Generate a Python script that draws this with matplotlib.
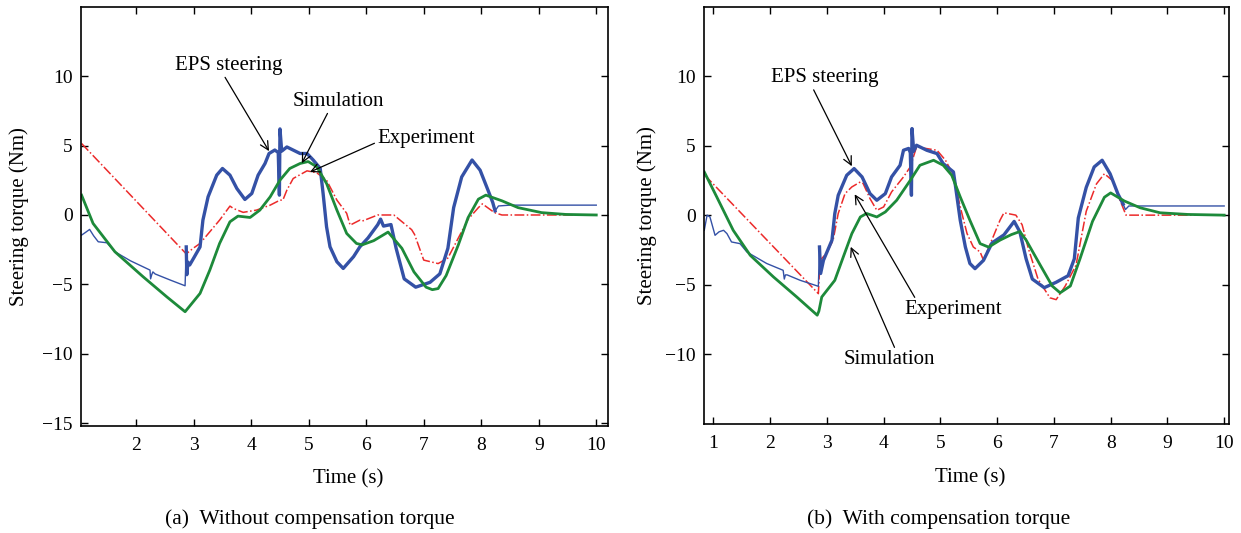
import numpy as np
import matplotlib.pyplot as plt

plt.rcParams['font.family'] = ['Liberation Serif', 'DejaVu Serif']

# ---- (a) without compensation torque ----
a_eps_t = [1.05, 1.12, 1.19, 1.26, 1.34, 1.49, 1.63, 1.9, 2.24, 2.25, 2.27, 2.29, 2.33, 2.6, 2.85,
           2.87, 2.88, 2.9, 2.93, 3.0, 3.11, 3.16, 3.25, 3.40, 3.50, 3.63, 3.75, 3.89, 4.01, 4.12,
           4.24, 4.31, 4.41, 4.47, 4.49, 4.50, 4.53, 4.62, 4.85, 4.97, 5.08, 5.20, 5.25, 5.31, 5.37,
           5.49, 5.60, 5.78, 5.89, 6.03, 6.20, 6.25, 6.30, 6.43, 6.52, 6.66, 6.86, 7.11, 7.28, 7.42,
           7.52, 7.66, 7.84, 7.98, 8.12, 8.20, 8.24, 8.30, 8.5, 10.0]
a_eps_y = [-1.45, -1.25, -1.04, -1.5, -1.93, -2.0, -2.65, -3.3, -3.97, -4.6, -4.3, -4.1, -4.25, -4.7, -5.1,
           -2.3, -4.3, -3.4, -3.6, -3.1, -2.3, -0.37, 1.31, 2.87, 3.35, 2.87, 1.91, 1.12, 1.55, 2.87,
           3.71, 4.43, 4.68, 4.5, 1.43, 6.2, 4.6, 4.9, 4.43, 4.43, 3.95, 3.35, 1.55, -0.85, -2.29,
           -3.37, -3.85, -3.0, -2.29, -1.66, -0.7, -0.3, -0.8, -0.69, -2.4, -4.6, -5.2, -4.85, -4.24, -2.4,
           0.53, 2.74, 3.96, 3.23, 1.76, 0.9, 0.3, 0.65, 0.71, 0.71]

a_sim_t = [1.05, 1.25, 1.63, 2.12, 2.53, 2.85, 3.11, 3.28, 3.45, 3.63, 3.77, 3.98, 4.15, 4.33, 4.50,
           4.67, 4.85, 4.99, 5.14, 5.31, 5.49, 5.66, 5.83, 5.93, 6.13, 6.38, 6.62, 6.83, 7.04, 7.15,
           7.25, 7.39, 7.60, 7.77, 7.95, 8.08, 8.36, 8.64, 9.05, 9.47, 10.0]
a_sim_y = [1.43, -0.61, -2.65, -4.45, -5.89, -6.97, -5.65, -3.97, -2.05, -0.49, -0.08, -0.18, 0.35, 1.31, 2.51,
           3.35, 3.71, 3.85, 3.47, 2.27, 0.35, -1.33, -2.05, -2.15, -1.85, -1.23, -2.4, -4.1, -5.2, -5.38,
           -5.3, -4.36, -2.17, -0.2, 1.14, 1.43, 1.02, 0.53, 0.17, 0.04, 0.0]

a_exp_t = [1.05, 2.87, 2.99, 3.11, 3.28, 3.45, 3.63, 3.69, 3.86, 4.09, 4.33, 4.50, 4.55, 4.62, 4.73,
           4.97, 5.14, 5.31, 5.49, 5.66, 5.72, 5.89, 5.93, 6.2, 6.48, 6.79, 6.84, 7.0, 7.25, 7.42,
           7.6, 7.77, 7.95, 8.02, 8.23, 8.36, 10.0]
a_exp_y = [5.15, -2.8, -2.4, -2.05, -1.21, -0.37, 0.64, 0.47, 0.19, 0.35, 0.71, 1.07, 1.07, 1.79, 2.63,
           3.18, 3.04, 2.51, 1.07, 0.12, -0.73, -0.37, -0.44, 0.0, 0.0, -1.06, -1.4, -3.25, -3.5, -3.1,
           -1.67, -0.32, 0.53, 0.8, 0.17, 0.0, 0.0]

# ---- (b) with compensation torque ----
b_eps_t = [0.84, 0.89, 0.94, 1.03, 1.1, 1.18, 1.24, 1.32, 1.47, 1.59, 1.94, 2.23, 2.25, 2.27, 2.3, 2.53, 2.85,
           2.87, 2.89, 2.94, 3.09, 3.14, 3.2, 3.35, 3.48, 3.62, 3.76, 3.88, 4.03, 4.14, 4.29, 4.35, 4.44,
           4.47, 4.49, 4.50, 4.53, 4.58, 4.76, 4.94, 5.05, 5.23, 5.26, 5.35, 5.44, 5.52, 5.61, 5.76, 5.91,
           6.12, 6.3, 6.4, 6.51, 6.62, 6.83, 7.04, 7.25, 7.36, 7.43, 7.57, 7.71, 7.85, 7.99, 8.13, 8.22,
           8.26, 8.32, 10.0]
b_eps_y = [-1.09, 0.0, -0.13, -1.45, -1.2, -1.09, -1.33, -1.93, -2.05, -2.65, -3.48, -3.97, -4.6, -4.3, -4.3, -4.69, -5.12,
           -2.29, -4.2, -3.25, -1.8, 0.12, 1.43, 2.87, 3.35, 2.75, 1.55, 1.07, 1.55, 2.75, 3.59, 4.67, 4.8,
           4.5, 1.43, 6.23, 4.6, 5.03, 4.67, 4.43, 3.71, 3.11, 2.27, -0.37, -2.29, -3.48, -3.85, -3.25, -2.0,
           -1.42, -0.45, -1.2, -3.14, -4.6, -5.22, -4.83, -4.36, -3.14, -0.2, 2.0, 3.47, 3.95, 2.98, 1.51, 0.8,
           0.4, 0.66, 0.66]

b_sim_t = [0.84, 1.06, 1.35, 1.65, 2.06, 2.47, 2.83, 2.86, 2.91, 3.14, 3.29, 3.44, 3.59, 3.70, 3.88,
           4.03, 4.23, 4.47, 4.64, 4.88, 5.05, 5.2, 5.35, 5.52, 5.70, 5.85, 6.05, 6.25, 6.4, 6.51,
           6.76, 6.97, 7.11, 7.29, 7.46, 7.68, 7.89, 8.0, 8.24, 8.52, 8.87, 9.36, 10.0]
b_sim_y = [3.11, 1.31, -1.09, -2.89, -4.45, -5.89, -7.2, -6.9, -5.89, -4.69, -3.0, -1.33, -0.13, 0.12, -0.13,
           0.23, 1.07, 2.51, 3.59, 3.95, 3.59, 2.87, 1.31, -0.37, -2.05, -2.3, -1.8, -1.4, -1.18, -1.79,
           -3.6, -5.1, -5.59, -5.1, -3.14, -0.45, 1.29, 1.6, 1.02, 0.53, 0.17, 0.05, 0.0]

b_exp_t = [0.85, 2.85, 2.88, 2.99, 3.11, 3.2, 3.32, 3.44, 3.59, 3.64, 3.76, 3.88, 4.0, 4.14, 4.35,
           4.47, 4.58, 4.76, 4.94, 5.09, 5.23, 5.35, 5.47, 5.58, 5.70, 5.76, 5.88, 6.05, 6.12, 6.33,
           6.44, 6.55, 6.72, 6.93, 7.04, 7.2, 7.39, 7.57, 7.75, 7.89, 8.03, 8.17, 8.27, 10.0]
b_exp_y = [2.87, -5.65, -3.25, -2.77, -1.8, 0.12, 1.55, 2.03, 2.39, 2.27, 1.19, 0.35, 0.59, 1.67, 2.75,
           3.47, 4.91, 4.79, 4.67, 3.95, 2.87, 0.59, -1.33, -2.29, -2.65, -3.25, -2.05, -0.37, 0.17, 0.0,
           -0.69, -2.4, -4.6, -5.95, -6.08, -5.1, -3.6, 0.28, 2.25, 2.98, 2.5, 1.02, 0.0, 0.0]

blue = '#3451a6'
green = '#1d8a3a'
red = '#ec2a2a'

fig = plt.figure(figsize=(12.41, 5.33), dpi=100)
ax1 = fig.add_axes([0.0655, 0.2013, 0.4247, 0.786])
ax2 = fig.add_axes([0.5675, 0.204, 0.4226, 0.7834])


def draw(ax, et, ey, st, sy, xt, xy):
    et = np.array(et)
    ey = np.array(ey)
    ax.plot(xt, xy, color=red, lw=1.1, ls='-.')
    ax.plot(et, ey, color=blue, lw=1.0)
    thick = (et >= 2.87) & (et <= 8.24)
    ax.plot(et[thick], ey[thick], color=blue, lw=2.4)
    ax.plot(st, sy, color=green, lw=2.0)
    ax.tick_params(direction='in', top=True, right=True, length=5, labelsize=14, width=1)
    ax.tick_params(axis='x', pad=8)
    ax.tick_params(axis='y', pad=6)
    for s in ax.spines.values():
        s.set_linewidth(1.2)
    ax.set_xlabel('Time (s)', fontsize=15)
    ax.set_ylabel('Steering torque (Nm)', fontsize=15)


draw(ax1, a_eps_t, a_eps_y, a_sim_t, a_sim_y, a_exp_t, a_exp_y)
ax1.set_xlim(1.045, 10.21)
ax1.set_ylim(-15.18, 15)
ax1.set_xticks(range(2, 11))
ax1.set_yticks([-15, -10, -5, 0, 5, 10])
ax1.xaxis.set_label_coords(0.506, -0.105)
ax1.yaxis.set_label_coords(-0.099, 0.5)

draw(ax2, b_eps_t, b_eps_y, b_sim_t, b_sim_y, b_exp_t, b_exp_y)
ax2.set_xlim(0.84, 10.08)
ax2.set_ylim(-15.05, 15)
ax2.set_xticks(range(1, 11))
ax2.set_yticks([-10, -5, 0, 5, 10])
ax2.xaxis.set_label_coords(0.507, -0.105)
ax2.yaxis.set_label_coords(-0.090, 0.5)

arrow = dict(arrowstyle='->', color='black', lw=0.9, shrinkA=0, shrinkB=0)
fs = 15
ax1.annotate('EPS steering', xy=(4.31, 4.6), xytext=(3.61, 10.8), fontsize=fs,
             ha='center', va='center', arrowprops=dict(arrow, relpos=(0.45, 0.0)))
ax1.annotate('Simulation', xy=(4.88, 3.73), xytext=(5.51, 8.2), fontsize=fs,
             ha='center', va='center', arrowprops=dict(arrow, relpos=(0.4, 0.0)))
ax1.annotate('Experiment', xy=(5.02, 3.09), xytext=(7.04, 5.53), fontsize=fs,
             ha='center', va='center', arrowprops=dict(arrow, relpos=(0.0, 0.3)))

ax2.annotate('EPS steering', xy=(3.44, 3.52), xytext=(2.97, 9.9), fontsize=fs,
             ha='center', va='center', arrowprops=dict(arrow, relpos=(0.38, 0.0)))
ax2.annotate('Experiment', xy=(3.49, 1.5), xytext=(5.23, -6.8), fontsize=fs,
             ha='center', va='center', arrowprops=dict(arrow, relpos=(0.12, 1.0)))
ax2.annotate('Simulation', xy=(3.42, -2.28), xytext=(4.10, -10.4), fontsize=fs,
             ha='center', va='center', arrowprops=dict(arrow, relpos=(0.57, 1.0)))

fig.text(310 / 1241, 1 - 519 / 533, '(a)  Without compensation torque', fontsize=15.5,
         ha='center', va='center')
fig.text(939 / 1241, 1 - 519 / 533, '(b)  With compensation torque', fontsize=15.5,
         ha='center', va='center')

fig.savefig('out.png', dpi=100)
